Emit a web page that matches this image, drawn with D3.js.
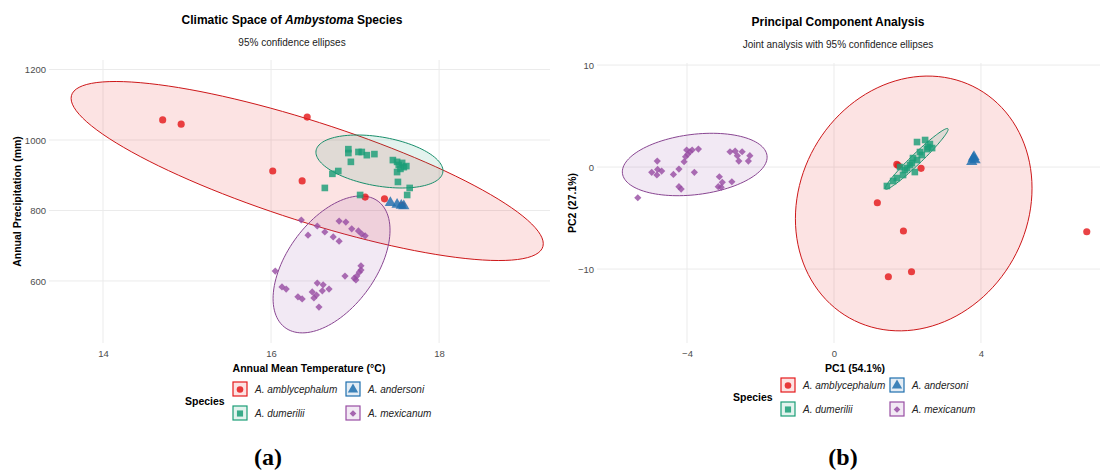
<!DOCTYPE html>
<html>
<head>
<meta charset="utf-8">
<script src="https://cdn.jsdelivr.net/npm/d3@7"></script>
<style>
  body { margin: 0; background: #fff; }
  svg { font-family: 'Liberation Sans', Arial, sans-serif; }
</style>
</head>
<body>
<div id="chart"></div>
<script>
var speciesNames = ['A. amblycephalum', 'A. andersoni', 'A. dumerilii', 'A. mexicanum'];

// panel (a): annual mean temperature (°C) and annual precipitation (mm)
var ambTemp = [14.71, 14.93, 16.02, 16.37, 16.43, 17.12, 17.35, 17.56];
var ambPrec = [1057, 1045, 912, 884, 1065, 838, 833, 815];
var andTemp = [17.42, 17.50, 17.55, 17.58];
var andPrec = [822, 817, 814, 813];
var dumTemp = [16.92, 16.92, 17.04, 17.08, 17.14, 17.23, 16.95, 17.45, 17.50, 17.52, 17.56,
  17.58, 17.54, 17.61, 17.50, 17.51, 16.80, 16.73, 16.64, 17.65, 17.62, 17.06];
var dumPrec = [974, 963, 966, 966, 957, 960, 938, 943, 938, 929, 935,
  923, 918, 926, 909, 881, 912, 904, 864, 864, 844, 844];
var mexTemp = [16.36, 16.55, 16.44, 16.64, 16.81, 16.89, 16.96, 17.04, 17.08, 17.12, 16.74, 16.81,
  16.05, 16.13, 16.18, 16.32, 16.37, 16.57, 16.55, 16.62, 16.69, 16.49, 16.51, 16.54, 16.61,
  16.88, 16.99, 17.02, 17.05, 17.07, 17.07, 17.01];
var mexPrec = [773, 756, 730, 739, 770, 767, 748, 742, 733, 728, 725, 713,
  628, 583, 577, 555, 549, 526, 594, 589, 577, 569, 552, 560, 572,
  614, 608, 614, 625, 643, 631, 603];

// panel (b): principal components
var ambPC1 = [1.71, 2.37, 1.18, 1.89, 1.48, 2.11, 6.88, 1.75];
var ambPC2 = [0.26, -0.13, -3.5, -6.27, -10.75, -10.26, -6.34, 0.15];
var andPC1 = [3.79, 3.75, 3.84, 3.81];
var andPC2 = [0.85, 0.52, 0.69, 1.0];
var dumPC1 = [2.26, 2.48, 2.56, 2.67, 2.53, 2.61, 2.15, 2.26, 2.07, 1.99, 1.80, 2.20, 1.88, 1.71,
  1.61, 1.44, 2.34, 2.39, 1.93, 2.12];
var dumPC2 = [2.45, 2.65, 1.96, 1.86, 1.76, 2.25, 0.88, 0.69, 0.20, -0.10, 0.00, -0.49, -0.78, -1.08,
  -1.37, -1.86, 1.47, 1.18, -0.29, 0.39];
var mexPC1 = [-5.34, -4.81, -4.96, -4.80, -4.69, -4.82, -4.37, -4.22, -4.08, -4.04, -3.98, -3.92,
  -4.01, -3.86, -3.69, -3.80, -4.22, -4.16, -3.12, -3.04, -3.15, -3.07, -2.78, -2.83, -2.69,
  -2.63, -2.50, -2.59, -2.29, -2.33];
var mexPC2 = [-3.01, 0.59, -0.52, -0.23, -0.39, -0.78, -0.72, -0.20, 0.52, 1.01, 1.25, 1.50,
  1.67, 1.67, 1.76, -0.52, -1.93, -2.16, -0.95, -1.50, -1.93, -1.99, -1.44, 1.50, 1.57,
  1.11, 1.50, 0.59, 1.11, 0.59];

// 95% ellipses: [centre x, centre y, half extent x, half extent y, correlation]
var climEllipseAmb = [16.43, 912, 2.81, 254, -0.812];
var climEllipseDum = [17.29, 939, 0.756, 75.2, -0.35];
var climEllipseMex = [16.72, 647, 0.696, 194.3, 0.5];
var pcaEllipseAmb = [2.17, -3.57, 3.22, 12.49, 0.12];
var pcaEllipseDum = [2.25, 0.80, 0.857, 2.98, 0.972];
var pcaEllipseMex = [-3.79, 0.25, 1.97, 3.06, 0.235];

var climXTicks = [14, 16, 18];
var climYTicks = [600, 800, 1000, 1200];
var pcaXTicks = [-4, 0, 4];
var pcaYTicks = [-10, 0, 10];

var colors = ['#E41A1C', '#1F6FAE', '#1B9E77', '#984EA3'];
var symbols = [d3.symbolCircle, d3.symbolTriangle, d3.symbolSquare, d3.symbolSquare];
var symbolSizes = [40, 55, 44, 26];
var symbolRotate = [0, 0, 0, 45];

var width = 1108;
var height = 470;
var svg = d3.select('#chart').append('svg')
  .attr('width', width)
  .attr('height', height);

function zip(xs, ys) {
  return xs.map(function (v, i) { return [v, ys[i]]; });
}

function ellipsePoints(e) {
  var pts = [];
  var k = Math.sqrt(1 - e[4] * e[4]);
  for (var i = 0; i <= 120; i++) {
    var t = i / 120 * 2 * Math.PI;
    pts.push([e[0] + e[2] * Math.cos(t), e[1] + e[3] * (e[4] * Math.cos(t) + k * Math.sin(t))]);
  }
  return pts;
}

function drawPanel(opt) {
  var x = d3.scaleLinear().domain(opt.xDomain).range([opt.left, opt.right]);
  var y = d3.scaleLinear().domain(opt.yDomain).range([opt.bottom, opt.top]);
  var g = svg.append('g');

  // grid
  g.append('g').selectAll('line.gx').data(opt.xTicks).enter().append('line')
    .attr('x1', function (d) { return x(d); })
    .attr('x2', function (d) { return x(d); })
    .attr('y1', opt.top).attr('y2', opt.bottom)
    .style('stroke', '#ebebeb').style('stroke-width', 1);
  g.append('g').selectAll('line.gy').data(opt.yTicks).enter().append('line')
    .attr('y1', function (d) { return y(d); })
    .attr('y2', function (d) { return y(d); })
    .attr('x1', opt.left).attr('x2', opt.right)
    .style('stroke', '#ebebeb').style('stroke-width', 1);

  // axes (labels only)
  var fmt = d3.format('');
  var xAxis = g.append('g')
    .attr('transform', 'translate(0,' + (opt.bottom + 3) + ')')
    .call(d3.axisBottom(x).tickValues(opt.xTicks).tickFormat(fmt).tickSize(0).tickPadding(4));
  var yAxis = g.append('g')
    .attr('transform', 'translate(' + (opt.left - 3) + ',0)')
    .call(d3.axisLeft(y).tickValues(opt.yTicks).tickFormat(fmt).tickSize(0).tickPadding(0));
  [xAxis, yAxis].forEach(function (a) {
    a.select('.domain').remove();
    a.selectAll('text').style('font-size', '9.5px').style('fill', '#4d4d4d')
      .style('font-family', "'Liberation Sans', Arial, sans-serif");
  });

  // ellipses
  var line = d3.line()
    .x(function (d) { return x(d[0]); })
    .y(function (d) { return y(d[1]); });
  opt.ellipses.forEach(function (e) {
    g.append('path')
      .attr('d', line(ellipsePoints(e.params)) + 'Z')
      .style('fill', colors[e.s])
      .style('fill-opacity', 0.12)
      .style('stroke', d3.color(colors[e.s]).darker(0.3))
      .style('stroke-width', 1);
  });

  // points
  opt.groups.forEach(function (grp) {
    g.append('g').selectAll('path').data(grp.pts).enter().append('path')
      .attr('d', d3.symbol().type(symbols[grp.s]).size(symbolSizes[grp.s]))
      .attr('transform', function (d) {
        return 'translate(' + x(d[0]) + ',' + y(d[1]) + ') rotate(' + symbolRotate[grp.s] + ')';
      })
      .style('fill', colors[grp.s])
      .style('fill-opacity', 0.82);
  });

  // titles
  var title = svg.append('text')
    .attr('x', opt.titleX).attr('y', opt.titleY)
    .attr('text-anchor', 'middle')
    .style('font-size', '12px').style('font-weight', 'bold');
  opt.title.forEach(function (p) {
    title.append('tspan').text(p[0]).style('font-style', p[1] ? 'italic' : 'normal');
  });
  svg.append('text')
    .attr('x', opt.titleX).attr('y', opt.titleY + 22)
    .attr('text-anchor', 'middle')
    .style('font-size', '10px').style('fill', '#222')
    .text(opt.subtitle);
  svg.append('text')
    .attr('x', opt.xTitleX).attr('y', opt.bottom + 29)
    .attr('text-anchor', 'middle')
    .style('font-size', '10.5px').style('font-weight', 'bold')
    .text(opt.xTitle);
  svg.append('text')
    .attr('transform', 'translate(' + opt.yTitleX + ',' + ((opt.top + opt.bottom) / 2) + ') rotate(-90)')
    .attr('text-anchor', 'middle')
    .style('font-size', '10.5px').style('font-weight', 'bold')
    .text(opt.yTitle);

  // legend
  var lg = svg.append('g').attr('transform', 'translate(' + opt.legendX + ',' + opt.legendY + ')');
  lg.append('text')
    .attr('x', 0).attr('y', 16)
    .style('font-size', '10.5px').style('font-weight', 'bold')
    .text('Species');
  [0, 1, 2, 3].forEach(function (s, i) {
    var col = i % 2;
    var row = Math.floor(i / 2);
    var kx = 48 + col * opt.legendColW;
    var ky = row * 24 - 7;
    lg.append('rect')
      .attr('x', kx).attr('y', ky).attr('width', 14).attr('height', 14)
      .style('fill', colors[s]).style('fill-opacity', 0.12)
      .style('stroke', colors[s]).style('stroke-width', 1.2);
    lg.append('path')
      .attr('d', d3.symbol().type(symbols[s]).size(symbolSizes[s] * 0.85))
      .attr('transform', 'translate(' + (kx + 7) + ',' + (ky + 7.5) + ') rotate(' + symbolRotate[s] + ')')
      .style('fill', colors[s]).style('fill-opacity', 0.85);
    lg.append('text')
      .attr('x', kx + 22).attr('y', ky + 11)
      .style('font-size', '10px').style('font-style', 'italic').style('fill', '#222')
      .text(speciesNames[s]);
  });

  svg.append('text')
    .attr('x', opt.tagX).attr('y', 465)
    .attr('text-anchor', 'middle')
    .style('font-family', "'Liberation Serif', 'Times New Roman', serif")
    .style('font-size', '24px').style('font-weight', 'bold')
    .text(opt.tag);
}

drawPanel({
  left: 49, right: 550, top: 60, bottom: 343,
  xDomain: [13.357, 19.32], yDomain: [424, 1227],
  xTicks: climXTicks, yTicks: climYTicks,
  ellipses: [
    {s: 0, params: climEllipseAmb},
    {s: 2, params: climEllipseDum},
    {s: 3, params: climEllipseMex}
  ],
  groups: [
    {s: 0, pts: zip(ambTemp, ambPrec)},
    {s: 2, pts: zip(dumTemp, dumPrec)},
    {s: 3, pts: zip(mexTemp, mexPrec)},
    {s: 1, pts: zip(andTemp, andPrec)}
  ],
  title: [['Climatic Space of ', false], ['Ambystoma', true], [' Species', false]],
  titleX: 292, titleY: 24,
  subtitle: '95% confidence ellipses',
  xTitle: 'Annual Mean Temperature (\u00B0C)', xTitleX: 309,
  yTitle: 'Annual Precipitation (mm)', yTitleX: 21,
  legendX: 185, legendY: 389, legendColW: 113,
  tag: '(a)', tagX: 268
});

drawPanel({
  left: 597, right: 1100, top: 63, bottom: 343,
  xDomain: [-6.45, 7.24], yDomain: [-17.25, 10.2],
  xTicks: pcaXTicks, yTicks: pcaYTicks,
  ellipses: [
    {s: 0, params: pcaEllipseAmb},
    {s: 2, params: pcaEllipseDum},
    {s: 3, params: pcaEllipseMex}
  ],
  groups: [
    {s: 0, pts: zip(ambPC1, ambPC2)},
    {s: 2, pts: zip(dumPC1, dumPC2)},
    {s: 3, pts: zip(mexPC1, mexPC2)},
    {s: 1, pts: zip(andPC1, andPC2)}
  ],
  title: [['Principal Component Analysis', false]],
  titleX: 838, titleY: 26,
  subtitle: 'Joint analysis with 95% confidence ellipses',
  xTitle: 'PC1 (54.1%)', xTitleX: 855,
  yTitle: 'PC2 (27.1%)', yTitleX: 576,
  legendX: 733, legendY: 385, legendColW: 109,
  tag: '(b)', tagX: 843
});
</script>
</body>
</html>
